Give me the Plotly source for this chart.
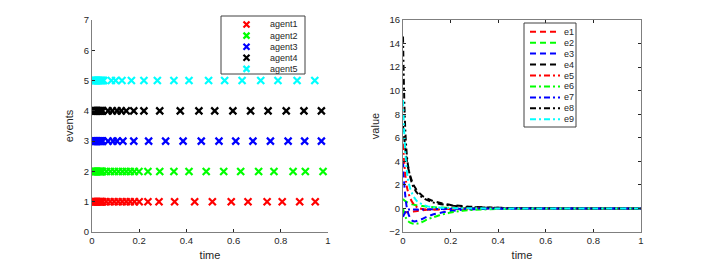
import plotly.graph_objects as go

# ---------------- data ----------------
agent_names = ["agent1", "agent2", "agent3", "agent4", "agent5"]
agent_levels = [1, 2, 3, 4, 5]
agent_colors = ["#FF0000", "#00FF00", "#0000FF", "#000000", "#00FFFF"]

agent1_t = [0, 0.003, 0.006, 0.009, 0.012, 0.015, 0.018, 0.021, 0.024, 0.027, 0.030, 0.033, 0.036, 0.039, 0.042, 0.045,
            0.060, 0.077, 0.094, 0.111, 0.128, 0.145, 0.162, 0.180, 0.200, 0.237, 0.284, 0.350, 0.435, 0.510,
            0.590, 0.661, 0.742, 0.806, 0.880, 0.946]
agent2_t = [0, 0.003, 0.006, 0.009, 0.012, 0.015, 0.018, 0.021, 0.024, 0.027, 0.030, 0.033, 0.036, 0.039, 0.042, 0.045,
            0.061, 0.078, 0.095, 0.112, 0.129, 0.145, 0.162, 0.179, 0.199, 0.237, 0.287, 0.347, 0.411, 0.484,
            0.558, 0.630, 0.706, 0.771, 0.852, 0.904, 0.979]
agent3_t = [0, 0.003, 0.006, 0.009, 0.012, 0.015, 0.018, 0.021, 0.024, 0.027, 0.030, 0.033, 0.036, 0.039, 0.042, 0.045,
            0.068, 0.089, 0.106, 0.131, 0.177, 0.240, 0.312, 0.386, 0.463, 0.538, 0.609, 0.682, 0.756, 0.831,
            0.901, 0.972]
agent4_t = [0, 0.003, 0.006, 0.009, 0.012, 0.015, 0.018, 0.021, 0.024, 0.027, 0.030, 0.033, 0.036, 0.039, 0.042, 0.045,
            0.068, 0.086, 0.106, 0.124, 0.145, 0.177, 0.220, 0.287, 0.374, 0.453, 0.520, 0.597, 0.672, 0.746,
            0.823, 0.898, 0.972]
agent5_t = [0, 0.003, 0.006, 0.009, 0.012, 0.015, 0.018, 0.021, 0.024, 0.027, 0.030, 0.033, 0.036, 0.039, 0.042, 0.045,
            0.050, 0.082, 0.100, 0.127, 0.167, 0.220, 0.277, 0.347, 0.411, 0.494, 0.562, 0.636, 0.715, 0.788,
            0.869, 0.944]
agent_times = [agent1_t, agent2_t, agent3_t, agent4_t, agent5_t]

err_t = [0, 0.005, 0.01, 0.015, 0.02, 0.03, 0.04, 0.05, 0.06, 0.08, 0.10, 0.12, 0.15, 0.20, 0.25, 0.30,
         0.40, 0.50, 0.60, 0.80, 1.00]
e1 = [-0.30, -0.32, -0.33, -0.33, -0.32, -0.30, -0.27, -0.24, -0.21, -0.16, -0.12, -0.09, -0.06, -0.03, -0.02, -0.01, 0, 0, 0, 0, 0]
e2 = [0.80, 0.70, 0.62, 0.56, 0.50, 0.42, 0.35, 0.30, 0.26, 0.20, 0.15, 0.12, 0.08, 0.04, 0.02, 0.01, 0, 0, 0, 0, 0]
e3 = [4.00, 2.20, 1.00, 0.20, -0.30, -0.80, -1.05, -1.10, -1.05, -0.90, -0.70, -0.55, -0.40, -0.22, -0.12, -0.07, -0.03, -0.01, 0, 0, 0]
e4 = [7.00, 6.00, 5.00, 4.20, 3.60, 2.80, 2.20, 1.80, 1.50, 1.10, 0.85, 0.68, 0.50, 0.30, 0.20, 0.13, 0.06, 0.03, 0.01, 0, 0]
e5 = [5.50, 4.00, 2.80, 2.00, 1.50, 0.90, 0.50, 0.25, 0.10, -0.05, -0.10, -0.10, -0.08, -0.04, -0.02, -0.01, 0, 0, 0, 0, 0]
e6 = [0, -0.40, -0.70, -0.90, -1.05, -1.20, -1.28, -1.30, -1.28, -1.15, -0.95, -0.80, -0.60, -0.35, -0.20, -0.12, -0.05, -0.02, -0.01, 0, 0]
e7 = [-0.70, -0.50, -0.30, -0.15, -0.10, -0.10, -0.10, -0.10, -0.10, -0.10, -0.08, -0.07, -0.05, -0.03, -0.02, -0.01, 0, 0, 0, 0, 0]
e8 = [14.6, 9.5, 6.5, 4.8, 3.8, 2.7, 2.0, 1.6, 1.3, 0.95, 0.72, 0.55, 0.40, 0.25, 0.15, 0.10, 0.05, 0.02, 0.01, 0, 0]
e9 = [9.2, 6.5, 4.6, 3.4, 2.6, 1.7, 1.2, 0.85, 0.60, 0.35, 0.20, 0.12, 0.07, 0.03, 0.02, 0.01, 0, 0, 0, 0, 0]
err_names = ["e1", "e2", "e3", "e4", "e5", "e6", "e7", "e8", "e9"]
err_values = [e1, e2, e3, e4, e5, e6, e7, e8, e9]
err_colors = ["#FF0000", "#00FF00", "#0000FF", "#000000", "#FF0000", "#00FF00", "#0000FF", "#000000", "#00FFFF"]
DASH = "6px,4px"
DASHDOT = "6px,3px,2px,3px"
err_dashes = [DASH, DASH, DASH, DASH, DASHDOT, DASHDOT, DASHDOT, DASHDOT, DASHDOT]

# ---------------- figure ----------------
OFF = 8                      # page body margin
W, H = 708 - OFF, 261 - OFF  # figure fits the window exactly
FONT = "Liberation Sans, Arial, Helvetica, sans-serif"
AX = "#262626"
LINE = "#7f7f7f"


def px(x):
    return (x - OFF) / W


def py(y):
    return 1 - (y - OFF) / H


fig = go.Figure()

for name, lvl, col, ts in zip(agent_names, agent_levels, agent_colors, agent_times):
    fig.add_trace(go.Scatter(
        x=ts, y=[lvl] * len(ts), mode="markers", name=name,
        marker=dict(symbol="x-thin", size=7, line=dict(color=col, width=2.2), color=col),
        xaxis="x", yaxis="y", showlegend=False))

for name, vals, col, dsh in zip(err_names, err_values, err_colors, err_dashes):
    fig.add_trace(go.Scatter(
        x=err_t, y=vals, mode="lines", name=name, line_shape="spline",
        line=dict(color=col, width=2, dash=dsh),
        xaxis="x2", yaxis="y2", showlegend=False))

common = dict(showgrid=False, zeroline=False, showline=True, linecolor=LINE, linewidth=1,
              ticks="inside", ticklen=3, tickcolor=AX, automargin=False,
              tickfont=dict(family=FONT, size=9.5, color=AX))
TITLE_FONT = dict(size=11, family=FONT, color=AX)

Y0, Y1 = 20, 232
fig.update_layout(
    width=W, height=H, margin=dict(l=0, r=0, t=0, b=0, autoexpand=False),
    paper_bgcolor="white", plot_bgcolor="white",
    font=dict(family=FONT, color=AX),
    xaxis=dict(domain=[px(92), px(328)], range=[0, 1], tickvals=[0, 0.2, 0.4, 0.6, 0.8, 1],
               ticktext=["0", "0.2", "0.4", "0.6", "0.8", "1"], anchor="y",
               title=dict(text="time", font=TITLE_FONT, standoff=6), **common),
    yaxis=dict(domain=[py(Y1), py(Y0)], range=[0, 7], tickvals=list(range(8)), anchor="x",
               title=dict(text="events", font=TITLE_FONT, standoff=7), **common),
    xaxis2=dict(domain=[px(403), px(641)], range=[0, 1], tickvals=[0, 0.2, 0.4, 0.6, 0.8, 1],
                ticktext=["0", "0.2", "0.4", "0.6", "0.8", "1"], anchor="y2", mirror="ticks",
                title=dict(text="time", font=TITLE_FONT, standoff=6), **common),
    yaxis2=dict(domain=[py(Y1), py(Y0)], range=[-2, 16], tickvals=list(range(-2, 17, 2)), anchor="x2",
                mirror="ticks",
                title=dict(text="value", font=TITLE_FONT, standoff=7), **common),
)

shapes = []
annotations = []

# left legend
shapes.append(dict(type="rect", xref="paper", yref="paper", x0=px(221), x1=px(305), y0=py(74), y1=py(16),
                   line=dict(color="#404040", width=1), fillcolor="white", layer="above"))
for i, (name, col) in enumerate(zip(agent_names, agent_colors)):
    yc = py(24.5 + i * 11.1)
    shapes.append(dict(type="path", xref="paper", yref="paper", xsizemode="pixel", ysizemode="pixel",
                       xanchor=px(246.5), yanchor=yc, path="M -3 -3 L 3 3 M -3 3 L 3 -3",
                       line=dict(color=col, width=2.2), layer="above"))
    annotations.append(dict(xref="paper", yref="paper", x=px(268), y=yc, text=name, showarrow=False,
                            xanchor="left", yanchor="middle", font=dict(family=FONT, size=9, color=AX)))

# right legend
shapes.append(dict(type="rect", xref="paper", yref="paper", x0=px(524), x1=px(576), y0=py(127), y1=py(23),
                   line=dict(color="#404040", width=1), fillcolor="white", layer="above"))
for i, (name, col, dsh) in enumerate(zip(err_names, err_colors, err_dashes)):
    yc = py(31.7 + i * 10.95)
    shapes.append(dict(type="line", xref="paper", yref="paper", x0=px(530), x1=px(560), y0=yc, y1=yc,
                       line=dict(color=col, width=2, dash=dsh), layer="above"))
    annotations.append(dict(xref="paper", yref="paper", x=px(562), y=yc, text=name, showarrow=False,
                            xanchor="left", yanchor="middle", font=dict(family=FONT, size=9, color=AX)))

fig.update_layout(shapes=shapes, annotations=annotations)

fig.write_html("out.html")
